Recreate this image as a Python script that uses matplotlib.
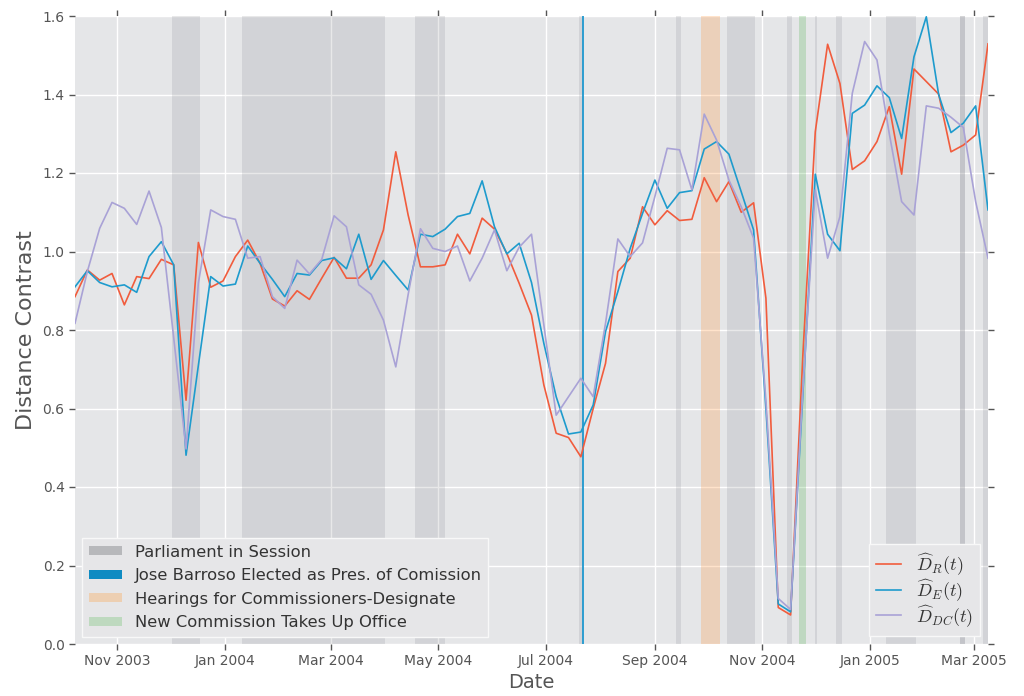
import matplotlib
matplotlib.use('Agg')
import matplotlib.pyplot as plt
import matplotlib.dates as mdates
import numpy as np
import pandas as pd
from matplotlib.patches import Patch
from matplotlib.lines import Line2D
from matplotlib.ticker import FormatStrFormatter

plt.rcParams['mathtext.fontset'] = 'cm'
plt.rcParams['font.family'] = ['DejaVu Sans']

# ---------------- data ----------------
start_date = '2003-10-08'
n_weeks = 75

d_r = [0.885, 0.953, 0.927, 0.944, 0.864, 0.936, 0.931, 0.980, 0.966, 0.621,
       1.023, 0.909, 0.925, 0.987, 1.029, 0.970, 0.879, 0.861, 0.900, 0.878,
       0.932, 0.985, 0.932, 0.932, 0.966, 1.055, 1.254, 1.093, 0.961, 0.961,
       0.966, 1.044, 0.994, 1.085, 1.057, 0.995, 0.919, 0.838, 0.660, 0.537,
       0.526, 0.477, 0.600, 0.715, 0.949, 0.983, 1.114, 1.068, 1.104, 1.079,
       1.082, 1.188, 1.127, 1.178, 1.100, 1.124, 0.881, 0.093, 0.074, 0.740,
       1.305, 1.528, 1.428, 1.209, 1.231, 1.280, 1.369, 1.197, 1.465, 1.433,
       1.401, 1.254, 1.271, 1.297, 1.529]

d_e = [0.910, 0.951, 0.921, 0.910, 0.915, 0.896, 0.987, 1.025, 0.966, 0.481,
       0.710, 0.936, 0.912, 0.917, 1.014, 0.970, 0.929, 0.885, 0.944, 0.940,
       0.977, 0.984, 0.956, 1.044, 0.929, 0.977, 0.939, 0.902, 1.044, 1.038,
       1.057, 1.089, 1.097, 1.180, 1.063, 0.994, 1.021, 0.921, 0.766, 0.630,
       0.535, 0.540, 0.609, 0.796, 0.898, 1.008, 1.097, 1.182, 1.110, 1.150,
       1.155, 1.261, 1.280, 1.248, 1.152, 1.055, 0.600, 0.102, 0.082, 0.640,
       1.197, 1.044, 1.002, 1.352, 1.373, 1.422, 1.392, 1.288, 1.496, 1.598,
       1.400, 1.303, 1.327, 1.371, 1.106]

d_dc = [0.817, 0.949, 1.059, 1.125, 1.110, 1.069, 1.154, 1.061, 0.780, 0.497,
        0.920, 1.106, 1.089, 1.082, 0.983, 0.987, 0.885, 0.855, 0.978, 0.943,
        0.980, 1.091, 1.063, 0.915, 0.891, 0.825, 0.706, 0.890, 1.058, 1.008,
        1.000, 1.014, 0.925, 0.983, 1.055, 0.951, 1.011, 1.044, 0.813, 0.583,
        0.630, 0.677, 0.630, 0.817, 1.032, 0.987, 1.022, 1.140, 1.263, 1.259,
        1.157, 1.350, 1.284, 1.182, 1.114, 1.034, 0.620, 0.116, 0.088, 0.650,
        1.157, 0.983, 1.089, 1.403, 1.535, 1.488, 1.300, 1.127, 1.093, 1.371,
        1.365, 1.342, 1.316, 1.127, 0.983]

sessions = [
    ('2003-12-02', '2003-12-18'),
    ('2004-01-11', '2004-04-01'),
    ('2004-04-18', '2004-05-05'),
    ('2004-07-20', '2004-07-22'),
    ('2004-09-13', '2004-09-16'),
    ('2004-10-12', '2004-10-28'),
    ('2004-11-15', '2004-11-18'),
    ('2004-12-01', '2004-12-02'),
    ('2004-12-13', '2004-12-16'),
    ('2005-01-10', '2005-01-27'),
    ('2005-02-21', '2005-02-24'),
    ('2005-02-21', '2005-02-24'),
    ('2005-03-06', '2005-03-10'),
]
barroso_date = '2004-07-22'
hearings = ('2004-09-27', '2004-10-08')
new_commission = ('2004-11-22', '2004-11-26')

series_labels = [r'$\widehat{D}_R(t)$', r'$\widehat{D}_E(t)$', r'$\widehat{D}_{DC}(t)$']
event_labels = ['Parliament in Session',
                'Jose Barroso Elected as Pres. of Comission',
                'Hearings for Commissioners-Designate',
                'New Commission Takes Up Office']

# ---------------- plot ----------------
dates = pd.date_range(start_date, periods=n_weeks, freq='7D')

c_red = '#F15C3D'
c_blue = '#1E9BCD'
c_purple = '#A9A2D6'

fig = plt.figure(figsize=(10.24, 6.96), dpi=100)
ax = fig.add_axes([75 / 1024, 52 / 696, 913 / 1024, 628 / 696])
ax.set_facecolor('#E5E6E8')
for s in ax.spines.values():
    s.set_visible(False)
ax.grid(True, color='white', lw=1.0)
ax.set_axisbelow(True)

for a, b in sessions:
    ax.axvspan(pd.Timestamp(a), pd.Timestamp(b), color='#80828A', alpha=0.18, lw=0, zorder=1)
ax.axvspan(pd.Timestamp(hearings[0]), pd.Timestamp(hearings[1]), color='#FF9132', alpha=0.25, lw=0, zorder=1)
ax.axvspan(pd.Timestamp(new_commission[0]), pd.Timestamp(new_commission[1]), color='#28A028', alpha=0.2, lw=0, zorder=1)
ax.axvline(pd.Timestamp(barroso_date), color='#1E98CF', lw=1.3, zorder=2)

l1, = ax.plot(dates, d_r, color=c_red, lw=1.2, zorder=3)
l2, = ax.plot(dates, d_e, color=c_blue, lw=1.2, zorder=3)
l3, = ax.plot(dates, d_dc, color=c_purple, lw=1.2, zorder=3)

ax.set_xlim(dates[0], dates[-1])
ax.set_ylim(0, 1.6)
ax.set_yticks(np.arange(0, 1.61, 0.2))
ax.yaxis.set_major_formatter(FormatStrFormatter('%.1f'))
ax.xaxis.set_major_locator(mdates.MonthLocator(bymonth=[1, 3, 5, 7, 9, 11]))
ax.xaxis.set_major_formatter(mdates.DateFormatter('%b %Y'))

ax.tick_params(axis='both', which='both', direction='out', length=4, width=1,
               color='#555555', labelcolor='#555555', labelsize=10,
               top=True, right=True, labeltop=False, labelright=False)

ax.set_xlabel('Date', fontsize=14, color='#555555', labelpad=3)
ax.set_ylabel('Distance Contrast', fontsize=16, color='#555555', labelpad=5)

handles1 = [Patch(facecolor='#B7B8BB', edgecolor='none'),
            Patch(facecolor='#0F8BC2', edgecolor='none'),
            Patch(facecolor='#EDCFB2', edgecolor='none'),
            Patch(facecolor='#BED9BF', edgecolor='none')]
leg1 = ax.legend(handles1, event_labels, loc='lower left', fontsize=11.8,
                 frameon=True, facecolor='#E6E6E8', edgecolor='#F8F8F8',
                 framealpha=1, fancybox=False, borderaxespad=0.45,
                 handlelength=2.0, handleheight=0.5, labelspacing=0.52)
for t in leg1.get_texts():
    t.set_color('#333333')
ax.add_artist(leg1)

leg2 = ax.legend([l1, l2, l3], series_labels, loc='lower right', fontsize=13,
                 frameon=True, facecolor='#E6E6E8', edgecolor='#F8F8F8',
                 framealpha=1, fancybox=False, borderaxespad=0.45,
                 handlelength=1.4, labelspacing=0.0)
for t in leg2.get_texts():
    t.set_color('#333333')

fig.savefig('out.png', dpi=100, facecolor='white')
